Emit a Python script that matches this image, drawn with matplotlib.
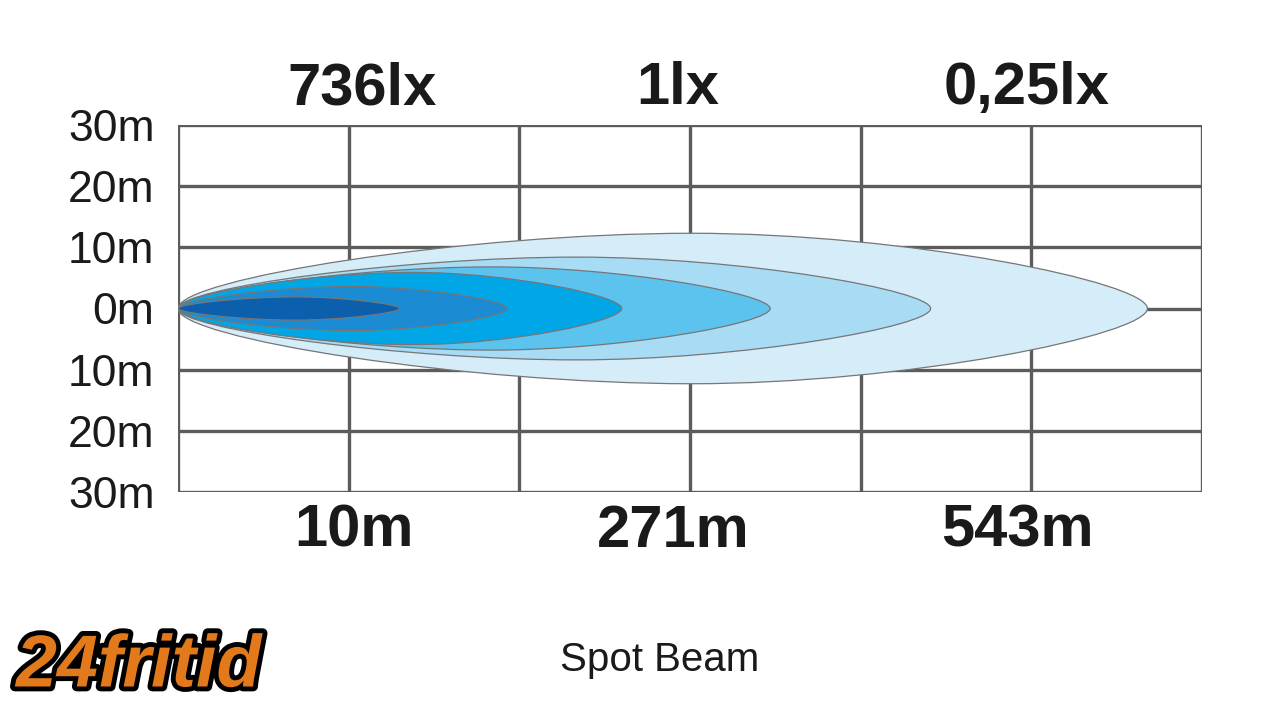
import matplotlib
matplotlib.use("Agg")
import matplotlib.pyplot as plt
from matplotlib.path import Path
from matplotlib.patches import PathPatch
import matplotlib.patheffects as pe

# ---- data ----
y_ticks = [30, 20, 10, 0, -10, -20, -30]
y_tick_labels = ["30m", "20m", "10m", "0m", "10m", "20m", "30m"]
x_grid = [0, 1, 2, 3, 4, 5, 6]
lux_labels = ["736lx", "1lx", "0,25lx"]
dist_labels = ["10m", "271m", "543m"]
# beam contours (outer -> inner): reach in grid units, half-width in metres
beam_reach = [5.68, 4.41, 3.47, 2.60, 1.93, 1.30]
beam_halfwidth = [12.3, 8.4, 6.8, 5.9, 3.6, 1.9]
beam_colors = ["#d5ecf9", "#a8dcf5", "#5cc3ef", "#00a6e6", "#1b8bd3", "#0b5fad"]

plt.rcParams['font.family'] = ['Liberation Sans', 'DejaVu Sans']

fig = plt.figure(figsize=(12.8, 7.11), dpi=100)
fig.patch.set_facecolor("white")
ax = fig.add_axes([178 / 1280, (711 - 492) / 711, 1024 / 1280, 367 / 711])
ax.set_xlim(x_grid[0], x_grid[-1])
ax.set_ylim(-30, 30)

grid_c = "#5c5c5c"
for xv in x_grid:
    ax.axvline(xv, color=grid_c, lw=2.4, zorder=1)
for yv in y_ticks:
    ax.axhline(yv, color=grid_c, lw=2.4, zorder=1)
for s in ax.spines.values():
    s.set_visible(False)

# beam shapes
shape_x = [0, 0, 0.30, 0.53, 0.75, 1.0, 1.0, 1.0, 0.75, 0.53, 0.30, 0, 0, 0]
shape_y = [0, 0.40, 1.0, 1.0, 1.0, 0.35, 0, -0.35, -1.0, -1.0, -1.0, -0.40, 0, 0]
codes = [Path.MOVETO] + [Path.CURVE4] * 12 + [Path.CLOSEPOLY]
for L, H, c in zip(beam_reach, beam_halfwidth, beam_colors):
    verts = [(sx * L, sy * H) for sx, sy in zip(shape_x, shape_y)]
    patch = PathPatch(Path(verts, codes), facecolor=c, edgecolor="#767676",
                      lw=0.9, zorder=3)
    ax.add_patch(patch)

ax.set_xticks([])
ax.set_yticks(y_ticks)
ax.set_yticklabels(y_tick_labels, fontsize=32, color="#1a1a1a")
ax.tick_params(axis="y", length=0, pad=17)

top_x = [1.08, 2.93, 4.97]
bot_x = [1.03, 2.9, 4.92]
for xv, t in zip(top_x, lux_labels):
    ax.text(xv, 35.9, t, ha="center", va="center", fontsize=43,
            fontweight="bold", color="#1a1a1a", clip_on=False)
for xv, t in zip(bot_x, dist_labels):
    ax.text(xv, -36.4, t, ha="center", va="center", fontsize=43,
            fontweight="bold", color="#1a1a1a", clip_on=False)

fig.text(660 / 1280, 1 - 660 / 711, "Spot Beam", ha="center", va="center",
         fontsize=29, color="#1a1a1a")

fig.text(16 / 1280, 1 - 667 / 711, "24fritid", ha="left", va="center",
         fontsize=53, fontweight="bold", fontstyle="italic", color="#e27a1c",
         path_effects=[pe.withStroke(linewidth=7, foreground="black")])

fig.savefig("out.png", dpi=100, facecolor="white")
